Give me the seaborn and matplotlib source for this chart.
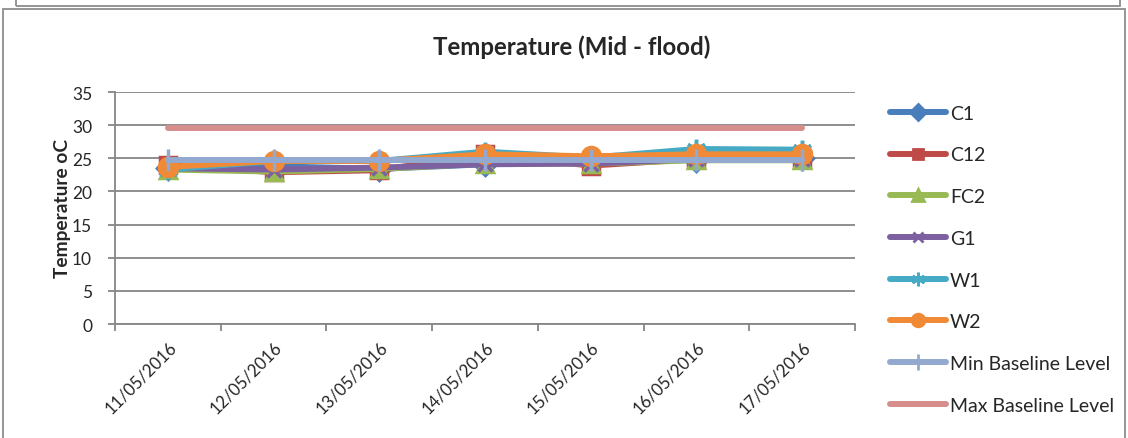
import matplotlib
matplotlib.use("Agg")
import matplotlib.pyplot as plt
from matplotlib.lines import Line2D
from matplotlib.patches import Rectangle
import seaborn as sns
import numpy as np

# Sampling dates and temperature readings (deg C)
dates = ["11/05/2016", "12/05/2016", "13/05/2016", "14/05/2016",
         "15/05/2016", "16/05/2016", "17/05/2016"]
c1 = [23.5, 23.8, 23.4, 24.1, 24.5, 24.8, 25.0]
c12 = [24.0, 22.9, 23.2, 25.6, 23.9, 24.9, 24.9]
fc2 = [23.3, 23.0, 23.4, 24.2, 24.2, 24.7, 24.7]
g1 = [23.5, 23.3, 23.6, 24.1, 24.2, 24.9, 24.9]
w1 = [23.3, 24.6, 24.6, 26.0, 25.1, 26.4, 26.3]
w2 = [23.7, 24.6, 24.6, 25.6, 25.3, 25.6, 25.6]
min_baseline = [24.8] * 7
max_baseline = [29.5] * 7

series_names = ["C1", "C12", "FC2", "G1", "W1", "W2",
                "Min Baseline Level", "Max Baseline Level"]
series_values = [c1, c12, fc2, g1, w1, w2, min_baseline, max_baseline]
colors = ["#4A7EBB", "#BE4B48", "#98B954", "#7D60A0", "#46AAC5",
          "#F08A36", "#93A9CF", "#D68E8D"]
markers = ["D", "s", "^", "x", (6, 2, 0), "o", "|", None]
msizes = [11, 11, 12, 10, 14, 13, 16, 0]

sns.set_style("white")
plt.rcParams["font.family"] = ["Lato", "DejaVu Sans"]

fig = plt.figure(figsize=(11.28, 4.39), dpi=100)
ax = fig.add_axes([115 / 1128, 1 - 325 / 439, 740 / 1128, 232 / 439])

pos = np.arange(len(dates))
for name, vals, col, mk, ms in zip(series_names, series_values, colors, markers, msizes):
    kw = dict(linewidth=4.3, color=col, solid_capstyle="round",
              solid_joinstyle="round")
    if mk is not None:
        kw.update(marker=mk, markersize=ms, markeredgecolor=col,
                  markerfacecolor=col, markeredgewidth=2.5)
    sns.lineplot(x=pos, y=vals, ax=ax, label=name, legend=False, **kw)

# Axes styling
ax.set_xlim(-0.5, len(dates) - 0.5)
ax.set_ylim(0, 35)
ax.set_yticks(np.arange(0, 36, 5))
ax.set_xticks(pos)
ax.set_xticklabels(dates, rotation=45, ha="right", rotation_mode="anchor",
                   fontsize=12.2)
ax.tick_params(axis="y", labelsize=12.5, length=5, width=1.3, color="#868686",
               direction="out", left=True, pad=11.5)
ax.tick_params(axis="x", length=0, pad=10)
ax.set_xticks(np.arange(-0.5, len(dates), 1), minor=True)
ax.tick_params(axis="x", which="minor", length=5, width=1.3, color="#868686",
               direction="out", bottom=True)
ax.grid(axis="y", color="#868686", linewidth=1.3)
ax.set_axisbelow(True)
for side in ["top", "right"]:
    ax.spines[side].set_visible(False)
for side in ["left", "bottom"]:
    ax.spines[side].set_color("#868686")
    ax.spines[side].set_linewidth(1.3)

ax.set_ylabel("Temperature oC", fontsize=13.8, fontweight="bold", labelpad=0.5)
ax.set_xlabel("")
fig.text(572 / 1128, 1 - 47 / 439, "Temperature (Mid - flood)", ha="center",
         va="center", fontsize=17.3, fontweight="bold")

# Legend
handles = []
for name, col, mk, ms in zip(series_names, colors, markers, msizes):
    handles.append(Line2D([], [], color=col, linewidth=4.3, marker=mk,
                          markersize=ms * 0.7 if mk else 0,
                          markeredgecolor=col, markerfacecolor=col,
                          markeredgewidth=2, solid_capstyle="round"))
fig.legend(handles, series_names, loc="upper left",
           bbox_to_anchor=(882 / 1128, 1 - 98 / 439), frameon=False,
           fontsize=14, handlelength=2.9, handletextpad=0.2,
           labelspacing=1.27, borderaxespad=0)

# Chart frames
fig.patches.append(Rectangle((3 / 1128, -0.05), 1122 / 1128, 1.05 - 10 / 439,
                             transform=fig.transFigure, fill=False,
                             edgecolor="#8C8C8C", linewidth=1.3))
fig.patches.append(Rectangle((16 / 1128, 1 - 7 / 439), 1104 / 1128, 0.2,
                             transform=fig.transFigure, fill=False,
                             edgecolor="#8C8C8C", linewidth=1.3))

fig.savefig("out.png", dpi=100)
